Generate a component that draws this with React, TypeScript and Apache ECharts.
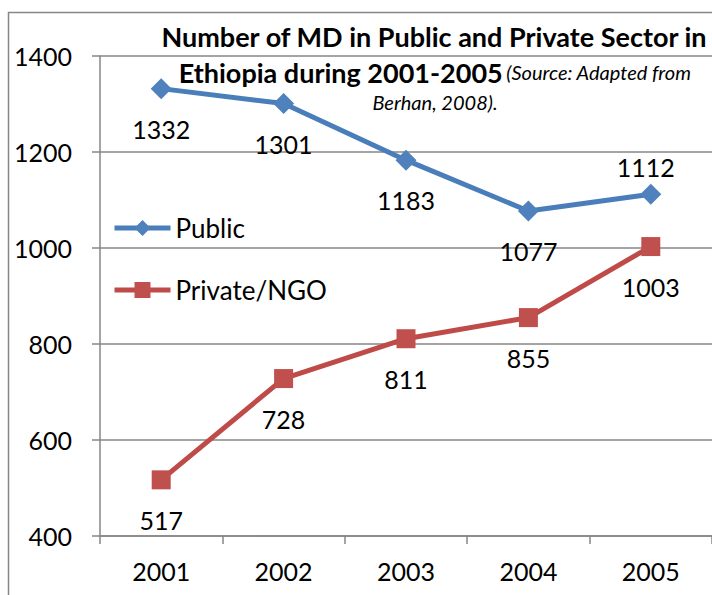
import React, { useEffect, useRef } from "react";
import * as echarts from "echarts";

const years = ["2001", "2002", "2003", "2004", "2005"];
const publicValues = [1332, 1301, 1183, 1077, 1112];
const privateValues = [517, 728, 811, 855, 1003];
const seriesNames = ["Public", "Private/NGO"];
const titleLine1 = "Number of MD in Public and Private Sector in";
const titleLine2Bold = "Ethiopia during 2001-2005";
const titleLine2Italic = "(Source: Adapted from";
const titleLine3 = "Berhan, 2008).";

const FONT = "Lato, 'Open Sans', sans-serif";
const GRAY = "#868686";

export default function App() {
  const ref = useRef<HTMLDivElement>(null);
  useEffect(() => {
    if (!ref.current) return;
    const chart = echarts.init(ref.current, undefined, { renderer: "svg" });
    const labelBase = {
      show: true,
      position: "inside",
      offset: [0, 40],
      color: "#000",
      fontFamily: FONT,
      fontSize: 25,
    };
    const publicData = publicValues.map((v, i) =>
      i === 4 ? { value: v, label: { offset: [-5, -27] } } : { value: v }
    );
    chart.setOption({
      animation: false,
      backgroundColor: "#fff",
      textStyle: { fontFamily: FONT },
      graphic: [
        {
          type: "rect",
          shape: { x: 8.5, y: 12.5, width: 1000, height: 1000 },
          style: { fill: "none", stroke: GRAY, lineWidth: 1.5 },
          silent: true,
          z: 0,
        },
        {
          type: "text",
          x: 434,
          y: 36,
          style: {
            text: titleLine1,
            font: `bold 27px ${FONT}`,
            fill: "#000",
            align: "center",
            verticalAlign: "middle",
          },
        },
        {
          type: "text",
          x: 435,
          y: 72,
          style: {
            text: `{b|${titleLine2Bold}} {i|${titleLine2Italic}}`,
            align: "center",
            verticalAlign: "middle",
            rich: {
              b: { fontFamily: FONT, fontWeight: "bold", fontSize: 27, fill: "#000" },
              i: { fontFamily: FONT, fontStyle: "italic", fontSize: 20, fill: "#000" },
            },
          },
        },
        {
          type: "text",
          x: 435,
          y: 102,
          style: {
            text: titleLine3,
            font: `italic 20px ${FONT}`,
            fill: "#000",
            align: "center",
            verticalAlign: "middle",
          },
        },
      ],
      legend: {
        orient: "vertical",
        left: 107,
        top: 210,
        itemWidth: 56,
        itemHeight: 20,
        itemGap: 36,
        itemStyle: { borderWidth: 0 },
        lineStyle: { width: 5 },
        textStyle: { fontFamily: FONT, fontSize: 26, color: "#000", lineHeight: 25 },
        data: seriesNames,
      },
      grid: { left: 100, top: 56, width: 618.5, height: 480, containLabel: false },
      xAxis: {
        type: "category",
        data: years,
        boundaryGap: true,
        axisLine: { lineStyle: { color: GRAY, width: 1.5 } },
        axisTick: { show: true, length: 8, interval: 0, lineStyle: { color: GRAY, width: 1.5 } },
        axisLabel: { color: "#000", fontFamily: FONT, fontSize: 25, margin: 22, interval: 0 },
      },
      yAxis: {
        type: "value",
        min: 400,
        max: 1400,
        interval: 200,
        axisLine: { show: true, lineStyle: { color: GRAY, width: 1.5 } },
        axisTick: { show: true, length: 8, lineStyle: { color: GRAY, width: 1.5 } },
        splitLine: { show: true, lineStyle: { color: GRAY, width: 1.5 } },
        axisLabel: {
          color: "#000",
          fontFamily: FONT,
          fontSize: 25,
          margin: 28,
          formatter: (v: number) => String(v),
        },
      },
      series: [
        {
          name: seriesNames[0],
          type: "line",
          data: publicData,
          symbol: "diamond",
          symbolSize: 21,
          lineStyle: { color: "#4A7EBB", width: 5 },
          itemStyle: { color: "#4F81BD" },
          label: labelBase,
          z: 3,
        },
        {
          name: seriesNames[1],
          type: "line",
          data: privateValues,
          symbol: "rect",
          symbolSize: 19,
          lineStyle: { color: "#BE4B48", width: 5 },
          itemStyle: { color: "#C0504D" },
          label: labelBase,
          z: 3,
        },
      ],
    });
    return () => chart.dispose();
  }, []);
  return (
    <div
      ref={ref}
      style={{ position: "fixed", left: 0, top: 0, width: 712, height: 595 }}
    />
  );
}
